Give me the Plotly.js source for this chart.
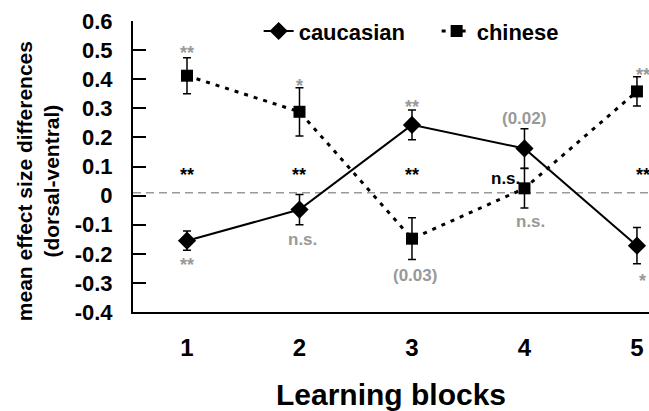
<!DOCTYPE html>
<html>
<head>
<meta charset="utf-8">
<script src="https://cdn.plot.ly/plotly-3.0.1.min.js"></script>
<style>html,body{margin:0;padding:0;background:#fff;}#chart{width:649px;height:411px;}</style>
</head>
<body>
<div id="chart"></div>
<script>
// ---- data ----
const blocks = [1, 2, 3, 4, 5];
const caucasian = [-0.155, -0.048, 0.243, 0.162, -0.172];
const caucasianErr = [0.033, 0.052, 0.051, 0.068, 0.062];
const chinese = [0.412, 0.288, -0.148, 0.025, 0.358];
const chineseErr = [0.062, 0.083, 0.072, 0.068, 0.05];
const baselineY = 0.01;
const yTickVals = [0.6, 0.5, 0.4, 0.3, 0.2, 0.1, 0, -0.1, -0.2, -0.3, -0.4];
const yTickText = ['0.6', '0.5', '0.4', '0.3', '0.2', '0.1', '0', '-0.1', '-0.2', '-0.3', '-0.4'];
const xTickText = ['1', '2', '3', '4', '5'];
// significance between groups: [x, y, text]
const sigBetween = [[1, 0.07, '**'], [2, 0.07, '**'], [3, 0.07, '**'], [5.05, 0.07, '**']];
const sigBetweenNS = [[3.83, 0.06, 'n.s.']];
// significance within groups: [x, y, text]
const sigGroup = [
  [1, 0.49, '**'], [2, 0.375, '*'], [3, 0.305, '**'], [4, 0.265, '(0.02)'], [5.05, 0.415, '**'],
  [1, -0.24, '**'], [2.03, -0.15, 'n.s.'], [3.03, -0.275, '(0.03)'], [4.05, -0.09, 'n.s.'], [5.05, -0.295, '*']
];

const FONT = '"Liberation Sans", Arial, sans-serif';
const traces = [
  {
    x: blocks, y: caucasian, name: 'caucasian', type: 'scatter', mode: 'lines+markers',
    line: {color: '#000', width: 2},
    marker: {symbol: 'diamond', size: 14, color: '#000'},
    error_y: {type: 'data', array: caucasianErr, visible: true, color: '#000', thickness: 1.5, width: 4}
  },
  {
    x: blocks, y: chinese, name: 'chinese', type: 'scatter', mode: 'lines+markers',
    line: {color: '#000', width: 3, dash: '4px,6px'},
    marker: {symbol: 'square', size: 12, color: '#000'},
    error_y: {type: 'data', array: chineseErr, visible: true, color: '#000', thickness: 1.5, width: 4}
  }
];

const annotations = [];
sigBetween.forEach(a => annotations.push({x: a[0], y: a[1], xref: 'x', yref: 'y', text: a[2], showarrow: false,
  font: {family: FONT, size: 18, color: '#000', weight: 'bold'}}));
sigBetweenNS.forEach(a => annotations.push({x: a[0], y: a[1], xref: 'x', yref: 'y', text: a[2], showarrow: false,
  font: {family: FONT, size: 17, color: '#000', weight: 'bold'}}));
sigGroup.forEach(a => annotations.push({x: a[0], y: a[1], xref: 'x', yref: 'y', text: a[2], showarrow: false,
  font: {family: FONT, size: a[2].indexOf('*') >= 0 ? 18 : 17, color: '#999', weight: 'bold'}}));
annotations.push({
  xref: 'paper', yref: 'paper', x: -0.185, y: 0.448, xanchor: 'center', yanchor: 'middle',
  textangle: -90, showarrow: false,
  text: 'mean effect size differences<br>(dorsal-ventral)',
  font: {family: FONT, size: 21, color: '#000', weight: 'bold'}
});

const layout = {
  width: 649, height: 411,
  margin: {l: 133, r: 0, t: 21, b: 99},
  paper_bgcolor: '#fff', plot_bgcolor: '#fff',
  font: {family: FONT, color: '#000'},
  showlegend: true,
  legend: {orientation: 'h', x: 0.2435, y: 0.965, xanchor: 'left', yanchor: 'middle',
    entrywidth: 133, entrywidthmode: 'pixels',
    font: {family: FONT, size: 22, color: '#000', weight: 'bold'}, bgcolor: 'rgba(0,0,0,0)'},
  xaxis: {
    range: [0.52, 5.107], tickvals: blocks, ticktext: xTickText, showgrid: false, zeroline: false,
    showline: true, linecolor: '#000', linewidth: 2, ticks: '', ticklabelstandoff: 13,
    tickfont: {family: FONT, size: 24, color: '#000', weight: 'bold'},
    title: {text: 'Learning blocks', standoff: 24, font: {family: FONT, size: 30, color: '#000', weight: 'bold'}}
  },
  yaxis: {
    range: [-0.4, 0.6], tickvals: yTickVals, ticktext: yTickText, showgrid: false, zeroline: false,
    showline: true, linecolor: '#000', linewidth: 2, ticks: 'inside', ticklen: 13, tickwidth: 2, tickcolor: '#000',
    ticklabelstandoff: 14,
    tickfont: {family: FONT, size: 22, color: '#000', weight: 'bold'}
  },
  shapes: [{type: 'line', xref: 'paper', yref: 'y', x0: 0, x1: 1, y0: baselineY, y1: baselineY,
    line: {color: '#999', width: 1.5, dash: '8px,5px'}, layer: 'below'}],
  annotations: annotations
};

Plotly.newPlot('chart', traces, layout, {staticPlot: true, displayModeBar: false});
</script>
</body>
</html>
